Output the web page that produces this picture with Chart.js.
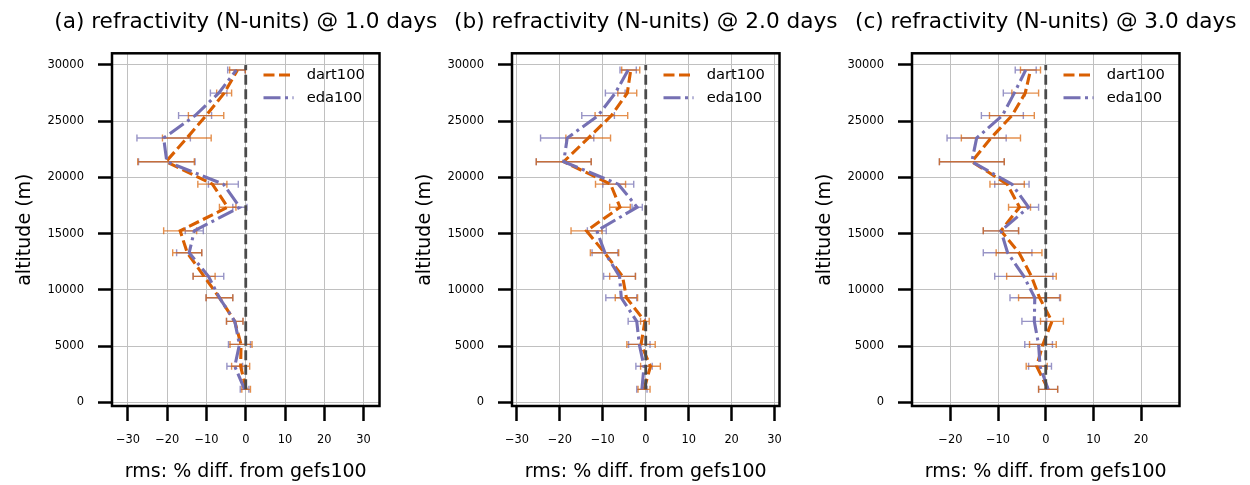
<!DOCTYPE html>
<html>
<head>
<meta charset="utf-8">
<script src="https://cdn.jsdelivr.net/npm/chart.js@4.4.1/dist/chart.umd.min.js"></script>
<style>
  html, body { margin: 0; padding: 0; background: #ffffff; }
  #wrap { position: relative; width: 1250px; height: 485px; overflow: hidden; }
  #wrap canvas { position: absolute; top: 0; }
</style>
</head>
<body>
<div id="wrap">
  <canvas id="panelA" width="450" height="485" style="left:0px"></canvas>
  <canvas id="panelB" width="450" height="485" style="left:400px"></canvas>
  <canvas id="panelC" width="450" height="485" style="left:800px"></canvas>
</div>
<script>
// =========================
// DATA (bottom level first)
// =========================

var altitudes = [1150, 3200, 5150, 7200, 9300, 11200, 13300, 15250, 17350, 19400, 21400, 23500, 25500, 27500, 29550];
var zeroLineX = [0, 0];
var zeroLineY = [1150, 30000];

var yTicks = [0, 5000, 10000, 15000, 20000, 25000, 30000];
var xTicksWide = [-30, -20, -10, 0, 10, 20, 30];
var xTicksNarrow = [-20, -10, 0, 10, 20];

var seriesNames = ["dart100", "eda100"];
var panelTitles = [
  "(a) refractivity (N-units) @ 1.0 days",
  "(b) refractivity (N-units) @ 2.0 days",
  "(c) refractivity (N-units) @ 3.0 days"
];
var xTitle = "rms: % diff. from gefs100";
var yTitle = "altitude (m)";

// day 1
var dartDay1 = [0.1, -1.3, -1.2, -2.8, -6.7, -10.6, -14.9, -16.7, -4.6, -8.5, -20.3, -15.0, -10.1, -5.5, -2.1];
var dartDay1Err = [1.1, 2.3, 2.8, 2.1, 3.4, 2.8, 3.7, 4.2, 2.1, 3.7, 7.2, 6.2, 4.5, 1.9, 2.0];
var edaDay1 = [-0.3, -2.8, -1.6, -2.8, -6.7, -9.5, -14.4, -13.1, -1.5, -5.7, -20.1, -20.9, -12.9, -6.9, -2.4];
var edaDay1Err = [1.1, 2.0, 2.8, 2.1, 3.4, 3.9, 3.2, 2.3, 1.8, 3.8, 7.2, 6.8, 4.2, 2.1, 2.2];

// day 2
var dartDay2 = [-0.4, 1.1, -1.1, -0.2, -4.5, -5.4, -9.6, -13.8, -6.0, -8.2, -19.1, -13.4, -8.0, -4.3, -3.5];
var dartDay2Err = [1.4, 2.3, 3.3, 1.0, 2.6, 3.0, 3.3, 3.6, 2.4, 3.5, 6.4, 5.2, 3.8, 2.2, 2.1];
var edaDay2 = [-0.9, -0.4, -1.5, -2.1, -5.7, -6.1, -9.5, -11.4, -2.0, -6.4, -19.1, -18.3, -11.1, -7.1, -4.1];
var edaDay2Err = [1.2, 1.9, 2.5, 2.0, 3.6, 3.7, 3.0, 2.2, 1.2, 3.6, 6.4, 6.2, 3.8, 2.3, 1.9];

// day 3
var dartDay3 = [0.5, -1.9, -0.6, 1.3, -1.3, -3.0, -5.6, -9.4, -5.5, -8.1, -15.5, -11.5, -7.1, -4.3, -3.2];
var dartDay3Err = [2.0, 2.2, 2.8, 2.4, 4.4, 5.2, 4.8, 3.7, 2.3, 3.6, 6.8, 6.2, 4.7, 2.8, 2.1];
var edaDay3 = [0.5, -1.2, -1.5, -2.4, -2.3, -4.6, -8.0, -9.4, -3.6, -7.1, -15.5, -14.5, -9.1, -6.6, -4.2];
var edaDay3Err = [2.0, 2.4, 2.9, 2.6, 5.2, 6.1, 5.1, 3.7, 2.1, 3.6, 6.8, 6.2, 4.4, 2.3, 2.2];

// =========================
// STYLE
// =========================

var FONT = "'DejaVu Sans', sans-serif";
var ORANGE = "#d95f02";
var PURPLE = "#7570b3";
var ORANGE_BAR = "rgba(217,95,2,0.7)";
var PURPLE_BAR = "rgba(117,112,179,0.75)";
var GRID = "#c0c0c0";

function toPoints(xs, ys) {
  return xs.map(function (v, i) {
    return { x: v, y: ys[i] };
  });
}

function minusSign(v) {
  return String(v).replace("-", "\u2212");
}

// horizontal error bars with caps, drawn under the lines
var errorBarPlugin = {
  id: "errorBars",
  beforeDatasetsDraw: function (chart) {
    var ctx = chart.ctx;
    var xs = chart.scales.x;
    var ys = chart.scales.y;
    ctx.save();
    ctx.lineWidth = 1.4;
    chart.data.datasets.forEach(function (ds) {
      if (!ds.errors) return;
      ctx.strokeStyle = ds.errorColor;
      ds.data.forEach(function (p, i) {
        var y = ys.getPixelForValue(p.y);
        var x0 = xs.getPixelForValue(p.x - ds.errors[i]);
        var x1 = xs.getPixelForValue(p.x + ds.errors[i]);
        ctx.beginPath();
        ctx.moveTo(x0, y);
        ctx.lineTo(x1, y);
        ctx.moveTo(x0, y - 3.5);
        ctx.lineTo(x0, y + 3.5);
        ctx.moveTo(x1, y - 3.5);
        ctx.lineTo(x1, y + 3.5);
        ctx.stroke();
      });
    });
    ctx.restore();
  }
};

// axes frame, panel title and the in-axes legend
var framePlugin = {
  id: "frame",
  afterDraw: function (chart) {
    var ctx = chart.ctx;
    var a = chart.chartArea;
    ctx.save();
    ctx.strokeStyle = "#000000";
    ctx.lineWidth = 2.5;
    ctx.strokeRect(a.left, a.top, a.right - a.left, a.bottom - a.top);

    ctx.fillStyle = "#000000";
    ctx.font = "21.6px " + FONT;
    ctx.textAlign = "center";
    ctx.textBaseline = "middle";
    ctx.fillText(chart.options.panelTitle, (a.left + a.right) / 2, 22.5);

    ctx.font = "14.7px " + FONT;
    ctx.textAlign = "left";
    var rows = [21.7, 44.4];
    chart.data.datasets.forEach(function (ds) {
      if (ds.legendRow === undefined) return;
      var y = a.top + rows[ds.legendRow];
      ctx.strokeStyle = ds.borderColor;
      ctx.lineWidth = ds.borderWidth;
      ctx.setLineDash(ds.borderDash);
      ctx.beginPath();
      ctx.moveTo(a.right - 116, y);
      ctx.lineTo(a.right - 86, y);
      ctx.stroke();
      ctx.setLineDash([]);
      ctx.fillText(ds.label, a.right - 72.8, y + 0.5);
    });
    ctx.restore();
  }
};

// =========================
// PANELS
// =========================

function makePanel(canvasId, title, dart, dartErr, eda, edaErr, xLimit, xTicks) {
  var canvas = document.getElementById(canvasId);
  if (!canvas) return;

  var panelData = {
    datasets: [
      {
        label: "zero",
        data: toPoints(zeroLineX, zeroLineY),
        borderColor: "#4a4a4a",
        borderWidth: 2.8,
        borderDash: [10, 4.5],
        order: 0
      },
      {
        label: seriesNames[1],
        data: toPoints(eda, altitudes),
        errors: edaErr,
        errorColor: PURPLE_BAR,
        borderColor: PURPLE,
        borderWidth: 3.1,
        borderDash: [17, 4.5, 3, 4.5],
        legendRow: 1,
        order: 1
      },
      {
        label: seriesNames[0],
        data: toPoints(dart, altitudes),
        errors: dartErr,
        errorColor: ORANGE_BAR,
        borderColor: ORANGE,
        borderWidth: 3.1,
        borderDash: [11, 4.5],
        legendRow: 0,
        order: 2
      }
    ]
  };

  var panelOptions = {
    responsive: false,
    animation: false,
    panelTitle: title,
    layout: {
      padding: { top: 53.3, right: 70.5, bottom: 0, left: 0 }
    },
    elements: {
      point: { radius: 0, hoverRadius: 0 },
      line: { tension: 0, fill: false }
    },
    plugins: {
      legend: { display: false },
      tooltip: { enabled: false }
    },
    scales: {
      x: {
        type: "linear",
        min: -xLimit,
        max: xLimit,
        afterBuildTicks: function (scale) {
          scale.ticks = xTicks.map(function (v) { return { value: v }; });
        },
        afterFit: function (scale) {
          scale.height = 79;
        },
        border: { display: false },
        grid: {
          color: GRID,
          lineWidth: 1,
          tickColor: "#000000",
          tickWidth: 2.5,
          tickLength: 15
        },
        ticks: {
          color: "#000000",
          font: { family: FONT, size: 11.4 },
          padding: 12,
          maxRotation: 0,
          callback: function (v) { return minusSign(v); }
        },
        title: {
          display: true,
          text: xTitle,
          color: "#000000",
          font: { family: FONT, size: 19 },
          padding: { top: 0, bottom: 1.6 }
        }
      },
      y: {
        type: "linear",
        min: -330,
        max: 31040,
        afterBuildTicks: function (scale) {
          scale.ticks = yTicks.map(function (v) { return { value: v }; });
        },
        afterFit: function (scale) {
          scale.width = 112;
        },
        border: { display: false },
        grid: {
          color: GRID,
          lineWidth: 1,
          tickColor: "#000000",
          tickWidth: 2.5,
          tickLength: 14
        },
        ticks: {
          color: "#000000",
          font: { family: FONT, size: 11.5 },
          padding: 14,
          callback: function (v) { return String(v); }
        },
        title: {
          display: true,
          text: yTitle,
          color: "#000000",
          font: { family: FONT, size: 19 },
          padding: { top: 13.6, bottom: 0 }
        }
      }
    }
  };

  new Chart(canvas, {
    type: "scatter",
    data: panelData,
    options: panelOptions,
    plugins: [errorBarPlugin, framePlugin]
  });
}

Chart.defaults.datasets.scatter.showLine = true;

makePanel("panelA", panelTitles[0], dartDay1, dartDay1Err, edaDay1, edaDay1Err, 34.05, xTicksWide);
makePanel("panelB", panelTitles[1], dartDay2, dartDay2Err, edaDay2, edaDay2Err, 31.15, xTicksWide);
makePanel("panelC", panelTitles[2], dartDay3, dartDay3Err, edaDay3, edaDay3Err, 28.05, xTicksNarrow);
</script>
</body>
</html>
